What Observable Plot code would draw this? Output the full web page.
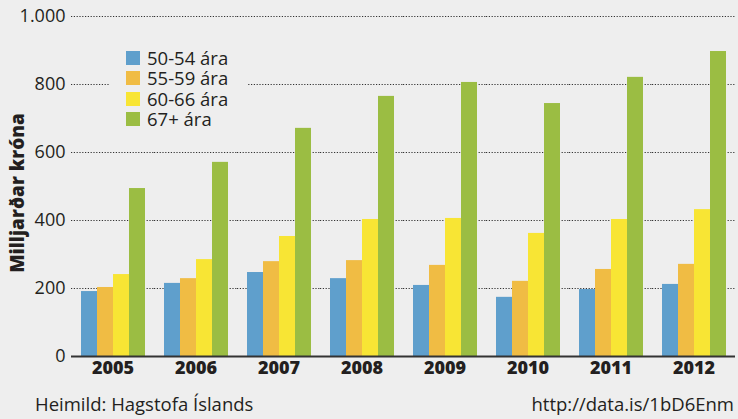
<!DOCTYPE html>
<html>
<head>
<meta charset="utf-8">
<script src="https://cdn.jsdelivr.net/npm/d3@7"></script>
<script src="https://cdn.jsdelivr.net/npm/@observablehq/plot@0.6"></script>
<style>
  html, body { margin: 0; padding: 0; background: #eeeeee; }
  body { width: 738px; height: 419px; position: relative; overflow: hidden; font-family: "Open Sans", sans-serif; color: #231f20; }
  #chart svg { display: block; }
  #legend { position: absolute; left: 110px; top: 47px; width: 138px; background: #eeeeee; padding: 1px 0 1px 16px; box-sizing: border-box; }
  .row { display: flex; align-items: center; height: 20.3px; font-size: 18.5px; line-height: 20px; white-space: nowrap; }
  .sw { width: 14px; height: 14px; margin-right: 7px; flex: none; }
  #ylabel { position: absolute; left: 17px; top: 193px; transform: translate(-50%, -50%) rotate(-90deg); font-size: 19px; font-weight: 800; white-space: nowrap; line-height: 20px; }
  #caption { display: flex; justify-content: space-between; padding: 11px 4px 0 35px; font-size: 18.5px; line-height: 20px; }
</style>
</head>
<body>
<div id="chart"></div>
<div id="legend"></div>
<div id="ylabel"></div>
<div id="caption"><span>Heimild: Hagstofa Íslands</span><span>http://data.is/1bD6Enm</span></div>
<script>
const years = ["2005", "2006", "2007", "2008", "2009", "2010", "2011", "2012"];
const groups = ["50-54 ára", "55-59 ára", "60-66 ára", "67+ ára"];
const v5054 = [191, 215, 247, 229, 209, 174, 197, 212];
const v5559 = [203, 229, 279, 282, 268, 221, 256, 271];
const v6066 = [241, 285, 353, 403, 406, 362, 403, 432];
const v67   = [494, 571, 671, 765, 806, 744, 821, 897];
const colors = ["#5f9fcc", "#f0bc44", "#f8e534", "#9bbd43"];
const yTicks = [0, 200, 400, 600, 800, 1000];
const yLabel = "Milljarðar króna";

const series = [v5054, v5559, v6066, v67];
const data = [];
years.forEach((yr, i) => groups.forEach((g, j) => data.push({year: yr, group: g, value: series[j][i]})));

const fmt = d => d3.format(",")(d).replace(/,/g, ".");

const chart = Plot.plot({
  width: 738,
  height: 383,
  marginTop: 16,
  marginBottom: 27,
  marginLeft: 68,
  marginRight: 0,
  style: {background: "#eeeeee", fontFamily: "Open Sans", fontSize: "18px", color: "#231f20"},
  fx: {domain: years, padding: 0, label: null},
  x: {domain: groups, paddingInner: 0, paddingOuter: 0.5, axis: null},
  y: {domain: [0, 1000], label: null},
  color: {domain: groups, range: colors},
  marks: [
    Plot.ruleY(yTicks.filter(d => d > 0), {stroke: "#333333", strokeWidth: 1.2, strokeDasharray: "1.2,1.6"}),
    Plot.barY(data, {fx: "year", x: "group", y: "value", fill: "group"}),
    Plot.ruleY([0], {stroke: "#333333", strokeWidth: 2}),
    Plot.axisY({ticks: yTicks, tickFormat: fmt, tickSize: 0, tickPadding: 6, fontSize: 18, label: null}),
    Plot.axisFx({anchor: "bottom", tickSize: 0, tickPadding: 5, fontSize: 18, fontWeight: 800, label: null})
  ]
});
document.getElementById("chart").appendChild(chart);

document.getElementById("ylabel").textContent = yLabel;

const legend = document.getElementById("legend");
groups.forEach((g, i) => {
  const row = document.createElement("div");
  row.className = "row";
  const sw = document.createElement("div");
  sw.className = "sw";
  sw.style.background = colors[i];
  row.appendChild(sw);
  row.appendChild(document.createTextNode(g));
  legend.appendChild(row);
});
</script>
</body>
</html>
